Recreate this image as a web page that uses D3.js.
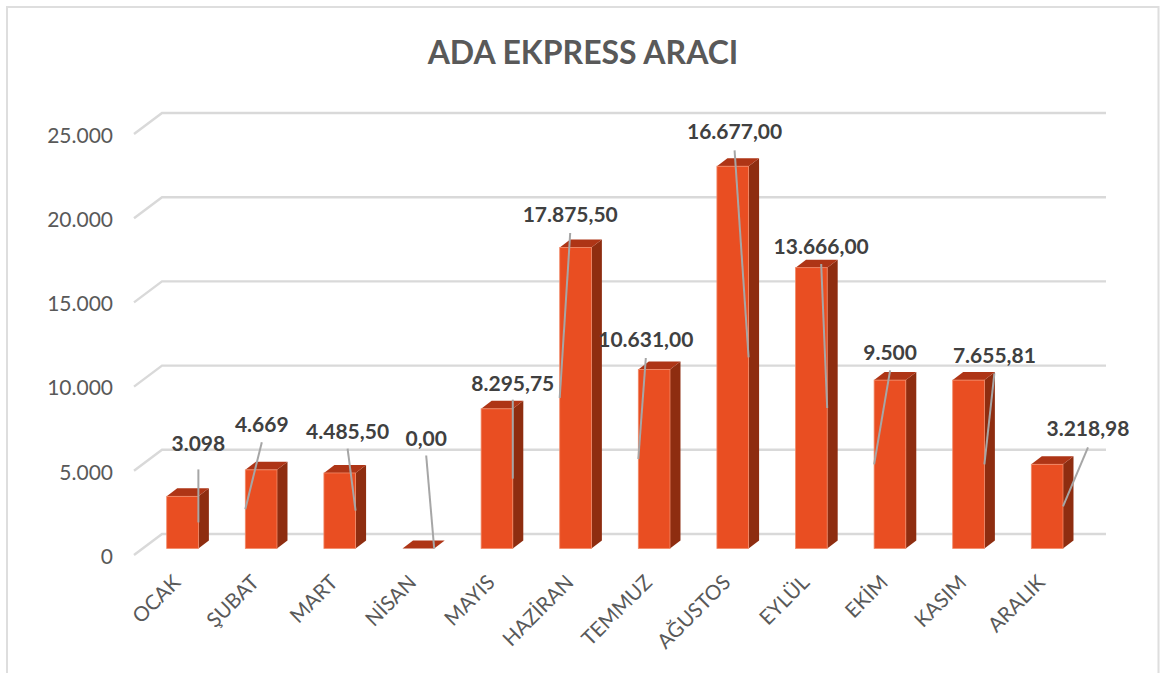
<!DOCTYPE html>
<html>
<head>
<meta charset="utf-8">
<script src="https://cdn.jsdelivr.net/npm/d3@7"></script>
<style>
  html, body { margin: 0; padding: 0; background: #fff; }
  svg { display: block; font-family: Lato, "Open Sans", sans-serif; }
</style>
</head>
<body>
<div id="chart"></div>
<script>
const months = ['OCAK', 'ŞUBAT', 'MART', 'NİSAN', 'MAYIS', 'HAZİRAN', 'TEMMUZ', 'AĞUSTOS', 'EYLÜL', 'EKİM', 'KASIM', 'ARALIK'];
// bar heights; the printed labels do not always agree with them
const barValues = [3098, 4669, 4485.5, 0, 8295.75, 17875.5, 10631, 22700, 16677, 10000, 10000, 5000];
const labelTexts = ['3.098', '4.669', '4.485,50', '0,00', '8.295,75', '17.875,50', '10.631,00', '16.677,00', '13.666,00', '9.500', '7.655,81', '3.218,98'];
const yTicks = [0, 5000, 10000, 15000, 20000, 25000];

// leader layout: which bar edge it ends on, then where its top sits relative to that end
const leaderSide = ['right', 'left', 'right', 'right', 'right', 'left', 'left', 'right', 'right', 'left', 'right', 'right'];
const leaderTop = [[0, -53], [16.5, -67], [-8, -62], [-8, -93], [0, -79], [10.5, -165], [7.5, -101], [-14, -207], [-6, -144], [16, -94], [10, -91], [25, -59]];
const labelLift = [18, 10, 10, 10, 9, 11, 11, 11, 10, 10, 10, 11];

const width = 1161, height = 673;
const depth = { x: 10.5, y: 8 };       // bar depth
const wall = { x: 28, y: 21, front: 6.5 }; // left wall of the 3d box

const svg = d3.select('#chart').append('svg')
    .attr('width', width)
    .attr('height', height);

// chart frame
svg.append('path')
    .attr('d', `M7,${height}V7H1158.5V${height}`)
    .attr('fill', 'none')
    .attr('stroke', '#dedede')
    .attr('stroke-width', 2);

svg.append('text')
    .attr('x', 583)
    .attr('y', 64)
    .attr('text-anchor', 'middle')
    .attr('font-size', 32)
    .attr('font-weight', 700)
    .attr('fill', '#595959')
    .text('ADA EKPRESS ARACI');

const x = d3.scaleBand()
    .domain(months)
    .range([143.25, 1086.45])
    .paddingInner(0.597)
    .paddingOuter(0.2985);

const y = d3.scaleLinear()
    .domain([0, 25000])
    .range([548.5, 127.5]);

const fmt = d3.formatLocale({ decimal: ',', thousands: '.', grouping: [3], currency: ['', ''] }).format(',d');

// Gridlines
const gridFront = wall.front;
const gridBack = gridFront - wall.y;
const grid = svg.append('g')
    .selectAll('path')
    .data(yTicks)
    .enter()
    .append('path')
    .attr('d', d => `M134,${y(d) + gridFront}L${134 + wall.x},${y(d) + gridBack}H1106`)
    .attr('fill', 'none')
    .attr('stroke', '#d9d9d9')
    .attr('stroke-width', 2.4);

// Axes
const yAxis = svg.append('g')
    .attr('transform', `translate(113,${gridFront + 1.5})`)
    .call(d3.axisLeft(y).tickValues(yTicks).tickSize(0).tickPadding(0).tickFormat(fmt));
yAxis.select('.domain').remove();
yAxis.selectAll('text')
    .attr('font-family', 'Lato, "Open Sans", sans-serif')
    .attr('font-size', 21)
    .attr('fill', '#595959');

const xAxis = svg.append('g')
    .attr('transform', 'translate(-13.5,579.5)')
    .call(d3.axisBottom(x).tickSize(0).tickPadding(0));
xAxis.select('.domain').remove();
xAxis.selectAll('text')
    .attr('font-family', 'Lato, "Open Sans", sans-serif')
    .attr('font-size', 20.5)
    .attr('fill', '#595959')
    .attr('text-anchor', 'end')
    .attr('dx', 6)
    .attr('dy', 12)
    .attr('transform', 'rotate(-45)');

// Bars
const rows = months.map((m, i) => ({ month: m, value: barValues[i], i }));
const bar = svg.append('g')
    .selectAll('g')
    .data(rows)
    .enter()
    .append('g');

bar.append('path')
    .attr('d', d => {
        const r = x(d.month) + x.bandwidth();
        return `M${r},${y(d.value)}l${depth.x},${-depth.y}V${y(0) - depth.y}l${-depth.x},${depth.y}Z`;
    })
    .attr('fill', '#8e2d10');

bar.append('path')
    .attr('d', d => {
        const l = x(d.month), r = l + x.bandwidth();
        return `M${l},${y(d.value)}l${depth.x},${-depth.y}H${r + depth.x}l${-depth.x},${depth.y}Z`;
    })
    .attr('fill', '#ae3516');

bar.append('rect')
    .attr('x', d => x(d.month))
    .attr('y', d => y(d.value))
    .attr('width', x.bandwidth())
    .attr('height', d => y(0) - y(d.value))
    .attr('fill', '#e94e22')
    .attr('stroke', '#f28a68')
    .attr('stroke-width', d => d.value > 0 ? 0.8 : 0);

// Leader lines + data labels
const anchor = d => ({
    x: x(d.month) + (leaderSide[d.i] === 'right' ? x.bandwidth() : 0),
    y: (y(d.value) + y(0)) / 2
});

svg.append('g')
    .selectAll('line')
    .data(rows)
    .enter()
    .append('line')
    .attr('x1', d => anchor(d).x)
    .attr('y1', d => anchor(d).y)
    .attr('x2', d => anchor(d).x + leaderTop[d.i][0])
    .attr('y2', d => anchor(d).y + leaderTop[d.i][1])
    .attr('stroke', '#a6a6a6')
    .attr('stroke-width', 2);

svg.append('g')
    .selectAll('text')
    .data(rows)
    .enter()
    .append('text')
    .attr('x', d => anchor(d).x + leaderTop[d.i][0])
    .attr('y', d => anchor(d).y + leaderTop[d.i][1] - labelLift[d.i])
    .attr('text-anchor', 'middle')
    .attr('font-size', 21)
    .attr('font-weight', 700)
    .attr('fill', '#404040')
    .text(d => labelTexts[d.i]);
</script>
</body>
</html>
